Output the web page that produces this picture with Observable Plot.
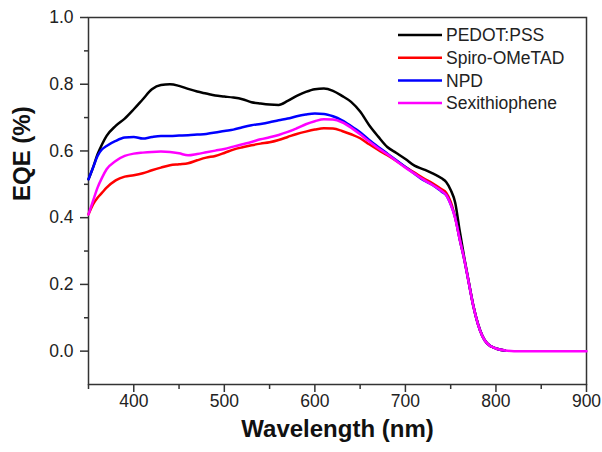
<!DOCTYPE html>
<html>
<head>
<meta charset="utf-8">
<script src="https://cdn.jsdelivr.net/npm/d3@7"></script>
<script src="https://cdn.jsdelivr.net/npm/@observablehq/plot@0.6"></script>
<style>
  html, body { margin: 0; padding: 0; background: #fff; }
  #chart { width: 602px; height: 452px; }
</style>
</head>
<body>
<div id="chart"></div>
<script>
// ---- data ----
const seriesNames = ["PEDOT:PSS", "Spiro-OMeTAD", "NPD", "Sexithiophene"];
const seriesColors = ["#000000", "#ff0000", "#0000ff", "#ff00ff"];

const wl = [350,355,360,365,370,380,390,400,410,420,430,440,450,460,470,480,490,500,510,520,530,540,550,560,570,580,590,600,610,620,630,640,650,660,670,680,690,700,710,720,730,740,745,750,755,760,765,770,775,780,785,790,800,810];

const pedotEqe = [0.515,0.55,0.59,0.62,0.645,0.675,0.697,0.725,0.755,0.785,0.798,0.800,0.795,0.786,0.778,0.772,0.766,0.763,0.760,0.755,0.746,0.742,0.739,0.738,0.750,0.765,0.777,0.785,0.787,0.780,0.765,0.747,0.718,0.677,0.643,0.612,0.594,0.576,0.556,0.545,0.533,0.518,0.507,0.483,0.445,0.36,0.28,0.207,0.137,0.083,0.046,0.024,0.008,0.002];

const spiroEqe = [0.41,0.44,0.46,0.475,0.49,0.512,0.523,0.527,0.533,0.542,0.55,0.557,0.560,0.563,0.572,0.580,0.585,0.594,0.604,0.611,0.617,0.622,0.626,0.633,0.642,0.651,0.658,0.664,0.668,0.667,0.660,0.650,0.638,0.620,0.603,0.587,0.570,0.552,0.535,0.518,0.503,0.485,0.475,0.448,0.40,0.335,0.275,0.205,0.135,0.082,0.045,0.024,0.008,0.002];

const npdEqe = [0.515,0.55,0.585,0.605,0.615,0.630,0.640,0.642,0.637,0.642,0.645,0.645,0.646,0.647,0.649,0.651,0.655,0.660,0.664,0.671,0.677,0.681,0.686,0.692,0.697,0.704,0.709,0.712,0.711,0.704,0.692,0.675,0.656,0.633,0.612,0.592,0.572,0.552,0.532,0.512,0.498,0.478,0.468,0.44,0.40,0.335,0.275,0.205,0.135,0.082,0.045,0.024,0.008,0.002];

const sexiWl = wl.concat([820, 900]);
const sexiEqe = [0.41,0.45,0.49,0.52,0.545,0.570,0.585,0.592,0.595,0.597,0.598,0.597,0.593,0.587,0.591,0.596,0.601,0.606,0.613,0.620,0.627,0.635,0.641,0.648,0.657,0.668,0.680,0.689,0.695,0.694,0.686,0.670,0.650,0.628,0.608,0.590,0.570,0.550,0.532,0.514,0.498,0.480,0.468,0.44,0.398,0.335,0.275,0.205,0.135,0.082,0.045,0.024,0.008,0.002,0,0];

const xMajor = [400,500,600,700,800,900];
const xMinor = [350,450,550,650,750,850];
const yMajor = [0.0,0.2,0.4,0.6,0.8,1.0];
const yMinor = [0.1,0.3,0.5,0.7,0.9];

// ---- build table ----
const seriesWl = [wl, wl, wl, sexiWl];
const seriesEqe = [pedotEqe, spiroEqe, npdEqe, sexiEqe];
const rows = [];
seriesNames.forEach((name, i) => {
  seriesWl[i].forEach((w, j) => rows.push({series: name, wl: w, eqe: seriesEqe[i][j]}));
});

const font = "'Liberation Sans', Arial, sans-serif";
const axisColor = "#333";

const chart = Plot.plot({
  width: 602,
  height: 452,
  marginLeft: 88,
  marginRight: 16,
  marginTop: 17,
  marginBottom: 68,
  style: {fontFamily: font, fontSize: "17.5px", color: "#222", background: "#fff", overflow: "visible"},
  x: {domain: [350, 900], label: null},
  y: {domain: [-0.1, 1.0], label: null},
  color: {domain: seriesNames, range: seriesColors},
  marks: [
    Plot.axisX(xMajor, {tickSize: 8, tickPadding: 2, tickFormat: d => String(d), stroke: axisColor, strokeWidth: 1.5, label: null}),
    Plot.axisX(xMinor, {tickSize: 5, tickFormat: () => "", stroke: axisColor, strokeWidth: 1.5, label: null}),
    Plot.axisY(yMajor, {tickSize: 8, tickPadding: 7, tickFormat: d => d.toFixed(1), stroke: axisColor, strokeWidth: 1.5, label: null}),
    Plot.axisY(yMinor, {tickSize: 4, tickFormat: () => "", stroke: axisColor, strokeWidth: 1.5, label: null}),
    Plot.frame({stroke: axisColor, strokeWidth: 1.5}),
    Plot.line(rows, {x: "wl", y: "eqe", z: "series", stroke: "series", strokeWidth: 2.5, curve: "monotone-x"}),
    Plot.text(["Wavelength (nm)"], {text: d => d, frameAnchor: "bottom", dy: 52, fontSize: 24, fontWeight: "bold", fill: "#111"}),
    Plot.text(["EQE (%)"], {text: d => d, frameAnchor: "left", dx: -66, rotate: -90, fontSize: 24, fontWeight: "bold", fill: "#111"})
  ]
});

// legend inside the plot, top-right
const svg = d3.select(chart);
const leg = svg.append("g").attr("font-family", font).attr("font-size", "17.5px").attr("text-anchor", "start");
seriesNames.forEach((name, i) => {
  const y = 35 + i * 22.7;
  leg.append("line").attr("x1", 398).attr("x2", 442).attr("y1", y).attr("y2", y)
    .attr("stroke", seriesColors[i]).attr("stroke-width", 2.5);
  leg.append("text").attr("x", 446).attr("y", y).attr("dy", "0.35em").attr("fill", "#222")
    .attr("text-anchor", "start").text(name);
});

document.getElementById("chart").appendChild(chart);
</script>
</body>
</html>
